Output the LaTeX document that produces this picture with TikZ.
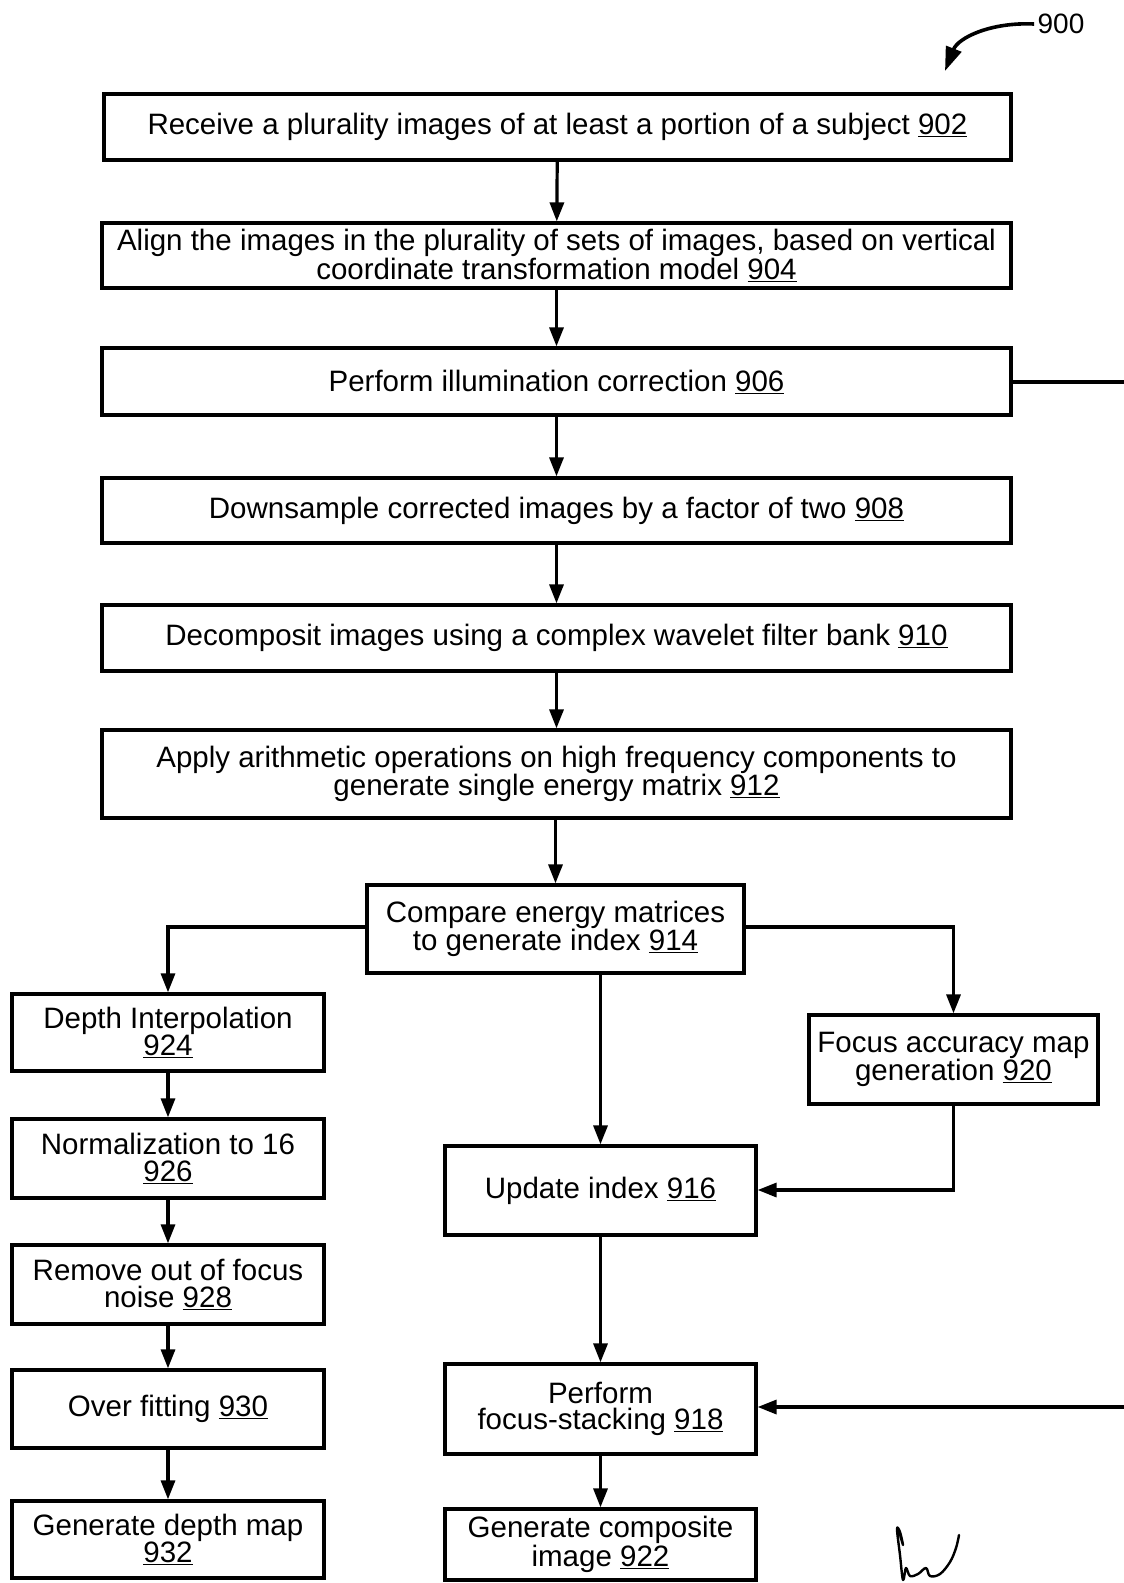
\documentclass[tikz,border=0pt]{standalone}
\usepackage{fontspec}
\setmainfont{Liberation Sans}
\usetikzlibrary{arrows.meta}
\begin{document}
\begin{tikzpicture}[x=1pt,y=-1pt,
  box/.style={draw, line width=3.2pt, inner sep=0pt, align=center, anchor=center,
    font=\fontsize{29.5}{26.5}\selectfont},
  conn/.style={line width=3.2pt, -{Triangle[length=19pt,width=14pt]}},
  plain/.style={line width=3.2pt}]
\useasboundingbox (0,0) rectangle (1124,1583);
\fill[white] (0,0) rectangle (1124,1583);

\node[box, minimum width=907pt, minimum height=66pt] (b902) at (557.5,127) {Receive a plurality images of at least a portion of a subject \underline{902}};
\node[box, minimum width=909pt, minimum height=65pt] (b904) at (556.5,255.5) {Align the images in the plurality of sets of images, based on vertical\\coordinate transformation model \underline{904}};
\node[box, minimum width=909pt, minimum height=67pt] (b906) at (556.5,381.5) {Perform illumination correction \underline{906}};
\node[box, minimum width=909pt, minimum height=65pt] (b908) at (556.5,510.5) {Downsample corrected images by a factor of two \underline{908}};
\node[box, minimum width=909pt, minimum height=66pt] (b910) at (556.5,638) {Decomposit images using a complex wavelet filter bank \underline{910}};
\node[box, minimum width=909pt, minimum height=88pt] (b912) at (556.5,774) {Apply arithmetic operations on high frequency components to\\generate single energy matrix \underline{912}};
\node[box, minimum width=377pt, minimum height=88pt] (b914) at (555.5,929) {Compare energy matrices\\to generate index \underline{914}};

\node[box, minimum width=312pt, minimum height=77pt] (b924) at (168,1032.5) {Depth Interpolation\\\underline{924}};
\node[box, minimum width=312pt, minimum height=79pt] (b926) at (168,1158.5) {Normalization to 16\\\underline{926}};
\node[box, minimum width=312pt, minimum height=79pt] (b928) at (168,1284.5) {Remove out of focus\\noise \underline{928}};
\node[box, minimum width=312pt, minimum height=78pt] (b930) at (168,1409) {Over fitting \underline{930}};
\node[box, minimum width=312pt, minimum height=77pt] (b932) at (168,1539.5) {Generate depth map\\\underline{932}};

\node[box, minimum width=289pt, minimum height=89pt] (b920) at (953.5,1059.5) {Focus accuracy map\\generation \underline{920}};
\node[box, minimum width=311pt, minimum height=89pt] (b916) at (600.5,1190.5) {Update index \underline{916}};
\node[box, minimum width=311pt, minimum height=90pt] (b918) at (600.5,1409) {Perform\\focus-stacking \underline{918}};
\node[box, minimum width=311pt, minimum height=71pt] (b922) at (600.5,1544.5) {Generate composite\\image \underline{922}};

% main chain
\draw[conn] (b902) -- (b904);
\draw[conn] (b904) -- (b906);
\draw[conn] (b906) -- (b908);
\draw[conn] (b908) -- (b910);
\draw[conn] (b910) -- (b912);
\draw[conn] (b912.south -| b914) -- (b914);

% branches
\draw[conn] (b914.west |- 0,927) -| (b924.north);
\draw[conn] (b914.east |- 0,927) -| (b920.north);
\draw[conn] (b914.south -| b916) -- (b916);
\draw[conn] (b920.south) |- (b916.east |- 0,1190);
\draw[conn] (b916) -- (b918);
\draw[conn] (b918) -- (b922);

\draw[conn] (b924) -- (b926);
\draw[conn] (b926) -- (b928);
\draw[conn] (b928) -- (b930);
\draw[conn] (b930) -- (b932);

% off-page lines
\coordinate (r906) at (1124,382);
\coordinate (r918) at (1124,1407);
\draw[plain] (b906.east |- r906) -- (r906);
\draw[conn] (r918) -- (b918.east |- r918);

% reference label
\node[font=\fontsize{28}{30}\selectfont, anchor=center] (l900) at (1061,24) {900};
\coordinate (tip900) at (945,71);
\draw[line width=3.6pt, -{Triangle[length=24pt,width=16pt]}] (l900.west) .. controls (990,22) and (958,38) .. (tip900);

% signature
\draw[line width=2.4pt, line cap=round, line join=round] plot[smooth, tension=0.6] coordinates {(899,1531) (903,1545) (900,1532) (897,1529) (900,1555) (903,1580) (906,1568) (910,1576) (918,1574) (926,1568) (930,1576) (940,1574) (950,1562) (956,1548) (959,1535)};
\end{tikzpicture}
\end{document}
